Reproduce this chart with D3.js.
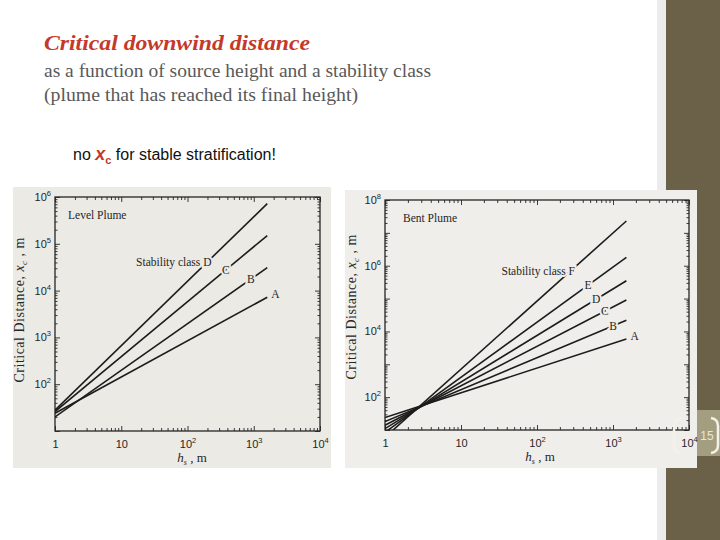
<!DOCTYPE html>
<html>
<head>
<meta charset="utf-8">
<script src="https://cdn.jsdelivr.net/npm/d3@7"></script>
<style>
  body { margin: 0; background: #ffffff; }
  svg { display: block; }
</style>
</head>
<body>
<svg id="slide" width="720" height="540"></svg>
<script>
// ---- data ----
// level plume: x_c at h_s = 1 m and at the end of each line
const levelHs = [1, 1600];
const levelClasses = ["A", "B", "C", "D"];
const levelStart = [24, 20, 26, 28];
const levelEnd = [7200, 31000, 150000, 720000];
const levelLabelHs = [1600, 900, 380, 200];

// bent plume
const bentHs = [1, 1500];
const bentClasses = ["A", "B", "C", "D", "E", "F"];
const bentStart = [24, 18, 14, 11, 8.5, 6];
const bentEnd = [5900, 22000, 91000, 350000, 1800000, 23000000];
const bentLabelHs = [1500, 1000, 780, 600, 470, 280];

// tick labels ("base|exponent")
const xTickValues = [1, 10, 100, 1000, 10000];
const xTickLabels = ["1", "10", "10|2", "10|3", "10|4"];
const levelYTicks = [1e2, 1e3, 1e4, 1e5, 1e6];
const levelYLabels = ["10|2", "10|3", "10|4", "10|5", "10|6"];
const bentYTicks = [1e2, 1e4, 1e6, 1e8];
const bentYLabels = ["10|2", "10|4", "10|6", "10|8"];

const svg = d3.select("#slide");

// slide decoration
svg.append("rect").attr("x", 0).attr("y", 0).attr("width", 720).attr("height", 540).attr("fill", "#ffffff");
svg.append("rect").attr("x", 657).attr("y", 0).attr("width", 9).attr("height", 540).attr("fill", "#ececec");
svg.append("rect").attr("x", 666).attr("y", 0).attr("width", 54).attr("height", 540).attr("fill", "#6b6149");
svg.append("rect").attr("x", 666).attr("y", 410).attr("width", 54).attr("height", 46).attr("fill", "#a39e80");

// page number, to the right of the figure edge
svg.append("text").attr("x", 707).attr("y", 440).attr("text-anchor", "middle")
  .attr("font-family", "Liberation Sans").attr("font-size", 12).attr("fill", "#e9e6da")
  .text("15");

// title block
svg.append("text")
  .attr("x", 44).attr("y", 50)
  .attr("font-family", "Liberation Serif").attr("font-size", 21)
  .attr("font-weight", "bold").attr("font-style", "italic")
  .attr("fill", "#c5392a")
  .attr("textLength", 266).attr("lengthAdjust", "spacingAndGlyphs")
  .text("Critical downwind distance");

svg.append("text")
  .attr("x", 44).attr("y", 77)
  .attr("font-family", "Liberation Serif").attr("font-size", 18)
  .attr("fill", "#595959")
  .attr("textLength", 387).attr("lengthAdjust", "spacingAndGlyphs")
  .text("as a function of source height and a stability class");

svg.append("text")
  .attr("x", 44).attr("y", 101)
  .attr("font-family", "Liberation Serif").attr("font-size", 18)
  .attr("fill", "#595959")
  .attr("textLength", 314).attr("lengthAdjust", "spacingAndGlyphs")
  .text("(plume that has reached its final height)");

const note = svg.append("text")
  .attr("x", 73).attr("y", 160)
  .attr("font-family", "Liberation Sans").attr("font-size", 16)
  .attr("fill", "#111");
note.append("tspan").text("no ");
note.append("tspan").attr("fill", "#c5392a").attr("font-weight", "bold")
  .attr("font-style", "italic").attr("font-size", 18).text("x");
note.append("tspan").attr("fill", "#c5392a").attr("font-weight", "bold")
  .attr("font-size", 11).attr("dy", 4).text("c");
note.append("tspan").attr("dy", -4).text(" for stable stratification!");

// write "10|2" as 10 with a superscript
function powerLabel(sel, label) {
  sel.text("");
  const parts = label.split("|");
  sel.append("tspan").text(parts[0]);
  if (parts[1]) sel.append("tspan").attr("font-size", 7.5).attr("dy", -5).text(parts[1]);
}

function drawChart(cfg) {
  const g = svg.append("g");
  const ink = "#262626";

  g.append("rect")
    .attr("x", cfg.img.x).attr("y", cfg.img.y)
    .attr("width", cfg.img.w).attr("height", cfg.img.h)
    .attr("fill", cfg.bg);

  const x = d3.scaleLog().domain([1, 1e4]).range([cfg.plot.x0, cfg.plot.x1]);
  const y = d3.scaleLog().domain(cfg.yDomain).range([cfg.plot.y1, cfg.plot.y0]);

  const powers = [1e1, 1e2, 1e3, 1e4, 1e5, 1e6, 1e7, 1e8];
  const xMinor = x.ticks().filter(v => !xTickValues.includes(v));
  const yMinor = y.ticks().filter(v => !powers.includes(v));
  const yDecades = y.ticks().filter(v => powers.includes(v) && !cfg.yTicks.includes(v));

  const axes = g.append("g")
    .attr("font-family", "Liberation Serif").attr("fill", ink);

  // bottom
  const xb = axes.append("g").attr("transform", `translate(0,${cfg.plot.y1})`)
    .call(d3.axisBottom(x).tickValues(xTickValues).tickSizeInner(-5).tickSizeOuter(0).tickPadding(9));
  xb.selectAll("text").each(function(d, i) { powerLabel(d3.select(this), xTickLabels[i]); });
  axes.append("g").attr("transform", `translate(0,${cfg.plot.y1})`)
    .call(d3.axisBottom(x).tickValues(xMinor).tickSizeInner(-3).tickSizeOuter(0).tickFormat(""));
  // top
  axes.append("g").attr("transform", `translate(0,${cfg.plot.y0})`)
    .call(d3.axisTop(x).tickValues(xTickValues).tickSizeInner(-5).tickSizeOuter(0).tickFormat(""));
  axes.append("g").attr("transform", `translate(0,${cfg.plot.y0})`)
    .call(d3.axisTop(x).tickValues(xMinor).tickSizeInner(-3).tickSizeOuter(0).tickFormat(""));
  // left
  const yl = axes.append("g").attr("transform", `translate(${cfg.plot.x0},0)`)
    .call(d3.axisLeft(y).tickValues(cfg.yTicks).tickSizeInner(-5).tickSizeOuter(0).tickPadding(4));
  yl.selectAll("text").each(function(d, i) { powerLabel(d3.select(this), cfg.yLabels[i]); });
  axes.append("g").attr("transform", `translate(${cfg.plot.x0},0)`)
    .call(d3.axisLeft(y).tickValues(yDecades).tickSizeInner(-5).tickSizeOuter(0).tickFormat(""));
  axes.append("g").attr("transform", `translate(${cfg.plot.x0},0)`)
    .call(d3.axisLeft(y).tickValues(yMinor).tickSizeInner(-2.5).tickSizeOuter(0).tickFormat(""));
  // right
  axes.append("g").attr("transform", `translate(${cfg.plot.x1},0)`)
    .call(d3.axisRight(y).tickValues(cfg.yTicks.concat(yDecades)).tickSizeInner(-5).tickSizeOuter(0).tickFormat(""));
  axes.append("g").attr("transform", `translate(${cfg.plot.x1},0)`)
    .call(d3.axisRight(y).tickValues(yMinor).tickSizeInner(-2.5).tickSizeOuter(0).tickFormat(""));

  axes.selectAll(".domain").remove();
  axes.selectAll(".tick line").attr("stroke", ink).attr("stroke-width", 0.9);
  axes.selectAll(".tick text").attr("fill", ink).attr("font-size", 11);

  // frame
  g.append("rect")
    .attr("x", cfg.plot.x0).attr("y", cfg.plot.y0)
    .attr("width", cfg.plot.x1 - cfg.plot.x0).attr("height", cfg.plot.y1 - cfg.plot.y0)
    .attr("fill", "none").attr("stroke", ink).attr("stroke-width", 1.3);

  // lines
  const clipId = "clip-" + cfg.name;
  g.append("clipPath").attr("id", clipId).append("rect")
    .attr("x", cfg.plot.x0).attr("y", cfg.plot.y0)
    .attr("width", cfg.plot.x1 - cfg.plot.x0).attr("height", cfg.plot.y1 - cfg.plot.y0);

  const line = d3.line().x(d => x(d.hs)).y(d => y(d.xc));
  const series = cfg.classes.map((c, i) => ({
    cls: c,
    pts: [{ hs: cfg.hs[0], xc: cfg.start[i] }, { hs: cfg.hs[1], xc: cfg.end[i] }],
    labelHs: cfg.labelHs[i]
  }));

  g.append("g").attr("clip-path", `url(#${clipId})`)
    .selectAll("path").data(series).join("path")
    .attr("d", d => line(d.pts))
    .attr("fill", "none").attr("stroke", "#1c1c1c").attr("stroke-width", 1.6);

  // point on a line in log-log space
  function along(d, hs) {
    const t = (Math.log(hs) - Math.log(d.pts[0].hs)) / (Math.log(d.pts[1].hs) - Math.log(d.pts[0].hs));
    return Math.exp(Math.log(d.pts[0].xc) + t * (Math.log(d.pts[1].xc) - Math.log(d.pts[0].xc)));
  }

  const labels = g.append("g")
    .attr("font-family", "Liberation Serif").attr("font-size", 11.5).attr("fill", ink);
  series.forEach((d, i) => {
    const px = x(d.labelHs), py = y(along(d, d.labelHs));
    const last = i === series.length - 1;
    const first = i === 0;
    const t = labels.append("text")
      .attr("stroke", cfg.bg).attr("stroke-width", 4).attr("paint-order", "stroke")
      .attr("dy", "0.35em");
    if (first) {
      t.attr("x", px + 4).attr("y", py - 3).attr("stroke", "none").text(d.cls);
    } else if (last) {
      t.attr("x", px + 4).attr("y", py).attr("text-anchor", "end").text("Stability  class  " + d.cls);
    } else {
      t.attr("x", px).attr("y", py).attr("text-anchor", "middle").text(d.cls);
    }
  });

  labels.append("text")
    .attr("x", cfg.plot.x0 + cfg.nameDx).attr("y", cfg.plot.y0 + 22)
    .text(cfg.title);

  // axis titles
  const yt = g.append("text")
    .attr("transform", `translate(${cfg.yTitleX},${cfg.yTitleY}) rotate(-90)`)
    .attr("text-anchor", "middle")
    .attr("font-family", "Liberation Serif").attr("font-size", 14).attr("fill", ink)
    .attr("textLength", 145).attr("lengthAdjust", "spacing");
  yt.append("tspan").text("Critical  Distance,  ");
  yt.append("tspan").attr("font-style", "italic").text("x");
  yt.append("tspan").attr("font-size", 9).attr("dy", 3).attr("font-style", "italic").text("c");
  yt.append("tspan").attr("dy", -3).text(" ,   m");

  const xt = g.append("text")
    .attr("x", cfg.xTitleX).attr("y", cfg.plot.y1 + 31)
    .attr("text-anchor", "middle")
    .attr("font-family", "Liberation Serif").attr("font-size", 13).attr("fill", ink);
  xt.append("tspan").attr("font-style", "italic").text("h");
  xt.append("tspan").attr("font-size", 8).attr("dy", 3).attr("font-style", "italic").text("s");
  xt.append("tspan").attr("dy", -3).text(" ,   m");
}

drawChart({
  name: "level",
  title: "Level  Plume",
  img: { x: 13, y: 187, w: 318, h: 281 },
  plot: { x0: 55, x1: 320, y0: 197, y1: 431 },
  bg: "#ebeae5",
  yDomain: [10, 1e6],
  yTicks: levelYTicks, yLabels: levelYLabels,
  hs: levelHs, classes: levelClasses, start: levelStart, end: levelEnd, labelHs: levelLabelHs,
  nameDx: 13, yTitleX: 24, yTitleY: 310, xTitleX: 192
});

drawChart({
  name: "bent",
  title: "Bent  Plume",
  img: { x: 345, y: 190, w: 352, h: 278 },
  plot: { x0: 385, x1: 689, y0: 200, y1: 430 },
  bg: "#efeeea",
  yDomain: [10, 1e8],
  yTicks: bentYTicks, yLabels: bentYLabels,
  hs: bentHs, classes: bentClasses, start: bentStart, end: bentEnd, labelHs: bentLabelHs,
  nameDx: 18, yTitleX: 356, yTitleY: 307, xTitleX: 540
});

// page number brackets
const pn = svg.append("g").attr("fill", "none").attr("stroke", "#f3f1e8").attr("stroke-width", 2.5);
pn.append("path").attr("d", "M681,418 Q674,419 674,426 L674,445 Q674,452 681,453");
pn.append("path").attr("d", "M711,418 Q718,419 718,426 L718,445 Q718,452 711,453");
</script>
</body>
</html>
